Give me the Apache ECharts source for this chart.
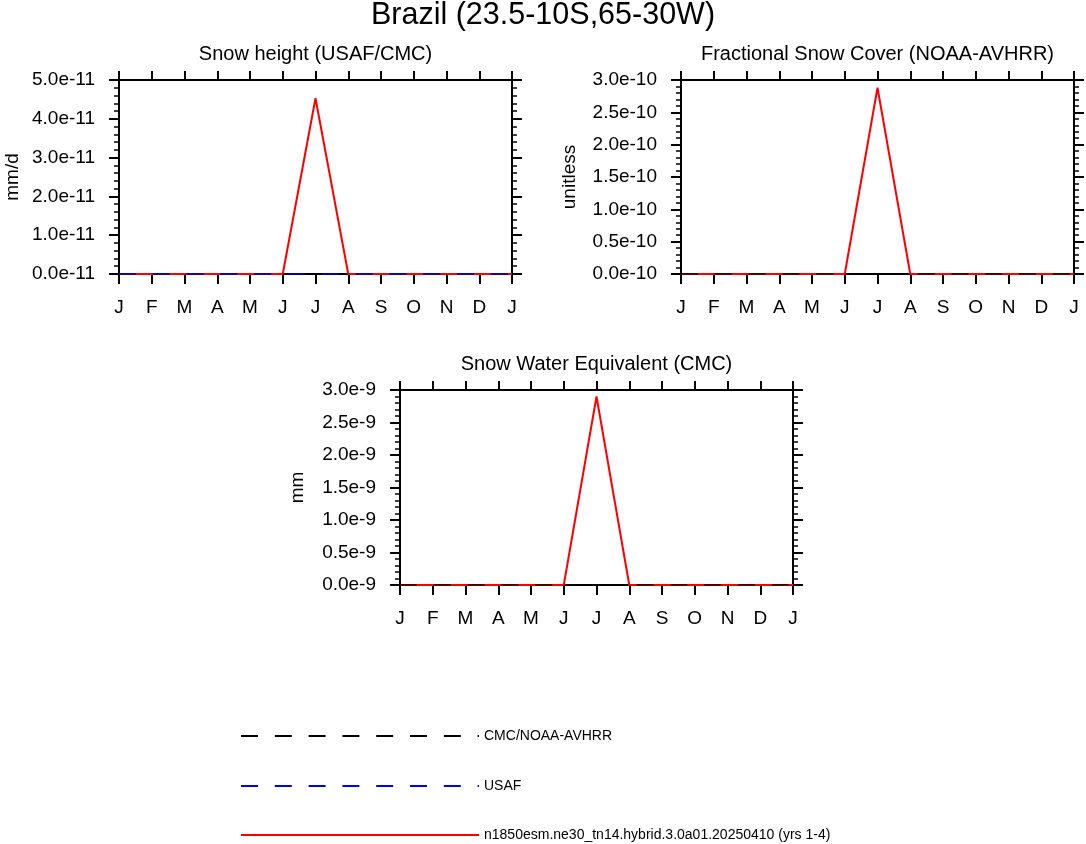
<!DOCTYPE html>
<html>
<head>
<meta charset="utf-8">
<script src="https://cdn.jsdelivr.net/npm/echarts@6/dist/echarts.min.js"></script>
<style>
html,body{margin:0;padding:0;background:#fff;}
#chart{width:1086px;height:844px;}
</style>
</head>
<body>
<div id="chart"></div>
<script>
// ---- data ----
const months = ['J','F','M','A','M','J','J','A','S','O','N','D','J'];

const snowHeightModel = [0,0,0,0,0,0,4.53e-11,0,0,0,0,0,0];
const snowHeightCMC   = [0,0,0,0,0,0,0,0,0,0,0,0,0];
const snowHeightUSAF  = [0,0,0,0,0,0,0,0,0,0,0,0,0];

const fscModel = [0,0,0,0,0,0,2.88e-10,0,0,0,0,0,0];
const fscNOAA  = [0,0,0,0,0,0,0,0,0,0,0,0,0];

const sweModel = [0,0,0,0,0,0,2.90e-9,0,0,0,0,0,0];
const sweCMC   = [0,0,0,0,0,0,0,0,0,0,0,0,0];

const yTicksSnowHeight = ['0.0e-11','1.0e-11','2.0e-11','3.0e-11','4.0e-11','5.0e-11'];
const yTicksFsc = ['0.0e-10','0.5e-10','1.0e-10','1.5e-10','2.0e-10','2.5e-10','3.0e-10'];
const yTicksSwe = ['0.0e-9','0.5e-9','1.0e-9','1.5e-9','2.0e-9','2.5e-9','3.0e-9'];

const nameObs = 'CMC/NOAA-AVHRR';
const nameUSAF = 'USAF';
const nameModel = 'n1850esm.ne30_tn14.hybrid.3.0a01.20250410 (yrs 1-4)';

// ---- layout ----
const FONT = 'Liberation Sans, Arial, Helvetica, sans-serif';
const TICKFONT = 19;
const DASH = [17, 16.8];
const grids = [
  {left:119, top:80, width:393, height:194},
  {left:681, top:80, width:393, height:194},
  {left:400, top:390, width:393, height:195}
];
const panels = [
  {title:'Snow height (USAF/CMC)', unit:'mm/d', nameGap:97, max:5e-11, interval:1e-11, labels:yTicksSnowHeight},
  {title:'Fractional Snow Cover (NOAA-AVHRR)', unit:'unitless', nameGap:102, max:3e-10, interval:0.5e-10, labels:yTicksFsc},
  {title:'Snow Water Equivalent (CMC)', unit:'mm', nameGap:93, max:3e-9, interval:0.5e-9, labels:yTicksSwe}
];

const axisLine = {show:true, onZero:false, lineStyle:{color:'#000', width:2}};
const xAxes = [], yAxes = [];
grids.forEach((g, i) => {
  xAxes.push({
    type:'category', gridIndex:i, data:months, boundaryGap:false, position:'bottom',
    axisLine, axisTick:{show:true, inside:false, length:10, alignWithLabel:true, lineStyle:{color:'#000', width:2}},
    axisLabel:{show:true, margin:24, color:'#000', fontSize:TICKFONT, fontFamily:FONT, interval:0},
    splitLine:{show:false}
  });
  xAxes.push({
    type:'category', gridIndex:i, data:months, boundaryGap:false, position:'top',
    axisLine, axisTick:{show:true, inside:false, length:9, lineStyle:{color:'#000', width:2}},
    axisLabel:{show:false}, splitLine:{show:false}
  });
  const p = panels[i];
  yAxes.push({
    type:'value', gridIndex:i, min:0, max:p.max, interval:p.interval, position:'left',
    name:p.unit, nameLocation:'middle', nameRotate:90, nameGap:p.nameGap,
    nameTextStyle:{color:'#000', fontSize:TICKFONT, fontFamily:FONT},
    axisLine, axisTick:{show:true, inside:false, length:10, lineStyle:{color:'#000', width:2}},
    minorTick:{show:true, splitNumber:5, length:5, lineStyle:{color:'#000', width:1.5}},
    axisLabel:{show:true, margin:24, color:'#000', fontSize:TICKFONT, fontFamily:FONT,
      formatter:(v, idx) => p.labels[idx]},
    splitLine:{show:false}
  });
  yAxes.push({
    type:'value', gridIndex:i, min:0, max:p.max, interval:p.interval, position:'right',
    axisLine, axisTick:{show:true, inside:false, length:10, lineStyle:{color:'#000', width:2}},
    minorTick:{show:true, splitNumber:5, length:5, lineStyle:{color:'#000', width:1.5}},
    axisLabel:{show:false}, splitLine:{show:false}
  });
});

function modelSeries(i, data){
  return {name:nameModel, type:'line', xAxisIndex:2*i, yAxisIndex:2*i, data, symbol:'none', z:2,
    lineStyle:{color:'#ff0000', width:2}, itemStyle:{color:'#ff0000'}};
}
function obsSeries(i, data){
  return {name:nameObs, type:'line', xAxisIndex:2*i, yAxisIndex:2*i, data, symbol:'none', z:3,
    lineStyle:{color:'#000', width:1.3, type:DASH}, itemStyle:{color:'#000'}};
}
function usafSeries(i, data){
  return {name:nameUSAF, type:'line', xAxisIndex:2*i, yAxisIndex:2*i, data, symbol:'none', z:4,
    lineStyle:{color:'#0000ff', width:1.3, type:DASH}, itemStyle:{color:'#0000ff'}};
}

const series = [
  modelSeries(0, snowHeightModel), obsSeries(0, snowHeightCMC), usafSeries(0, snowHeightUSAF),
  modelSeries(1, fscModel), obsSeries(1, fscNOAA),
  modelSeries(2, sweModel), obsSeries(2, sweCMC)
];

const titles = [{
  text:'Brazil (23.5-10S,65-30W)', left:543, top:0, textAlign:'center', padding:0,
  textStyle:{color:'#000', fontSize:30.5, fontWeight:'normal', fontFamily:FONT}
}];
grids.forEach((g, i) => {
  titles.push({
    text:panels[i].title, left:g.left + g.width/2, top:g.top - 36, textAlign:'center', padding:0,
    textStyle:{color:'#000', fontSize:20, fontWeight:'normal', fontFamily:FONT}
  });
});

const legendNames = [nameObs, nameUSAF, nameModel];
const legendTops = [729, 779, 828];
const legends = legendNames.map((n, k) => ({
  orient:'horizontal', left:240, top:legendTops[k], padding:0,
  itemWidth:238, itemHeight:14, itemGap:10, data:[n], selectedMode:false,
  itemStyle:{opacity:0, color:'rgba(0,0,0,0)', borderWidth:0},
  textStyle:{color:'#000', fontSize:14, fontFamily:FONT}
}));

const chart = echarts.init(document.getElementById('chart'), null, {renderer:'canvas'});
chart.setOption({
  animation:false,
  backgroundColor:'#fff',
  title:titles,
  grid:grids,
  xAxis:xAxes,
  yAxis:yAxes,
  legend:legends,
  series
});
</script>
</body>
</html>
